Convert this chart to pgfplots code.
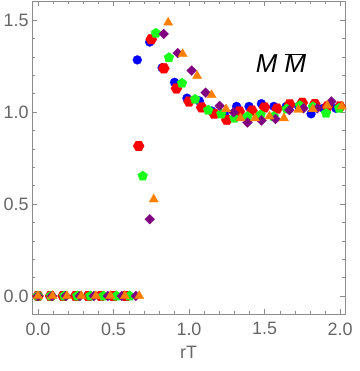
\documentclass[border=0pt]{standalone}
\usepackage{fontspec}
\setmainfont{Liberation Sans}
\usepackage{pgfplots}
\pgfplotsset{compat=1.18}
\usetikzlibrary{plotmarks}

\definecolor{mblue}{rgb}{0,0,1}
\definecolor{mred}{rgb}{1,0,0}
\definecolor{mgreen}{rgb}{0.1,1,0.1}
\definecolor{mpurple}{rgb}{0.5,0,0.5}
\definecolor{morange}{rgb}{1,0.5,0}
\definecolor{labelgray}{rgb}{0.4,0.4,0.4}
\definecolor{framegray}{rgb}{0.55,0.55,0.55}

% hexagon mark (not in plotmarks)
\pgfdeclareplotmark{hexagon*}{%
  \pgfpathmoveto{\pgfqpointpolar{0}{\pgfplotmarksize}}%
  \pgfpathlineto{\pgfqpointpolar{60}{\pgfplotmarksize}}%
  \pgfpathlineto{\pgfqpointpolar{120}{\pgfplotmarksize}}%
  \pgfpathlineto{\pgfqpointpolar{180}{\pgfplotmarksize}}%
  \pgfpathlineto{\pgfqpointpolar{240}{\pgfplotmarksize}}%
  \pgfpathlineto{\pgfqpointpolar{300}{\pgfplotmarksize}}%
  \pgfpathclose
  \pgfusepathqfillstroke}

\begin{document}
\begin{tikzpicture}
\begin{axis}[
    scale only axis,
    width=313bp, height=313bp,
    xmin=-0.0397, xmax=2.033,
    ymin=-0.098, ymax=1.603,
    axis line style={framegray},
    tick style={framegray},
    tick align=inside,
    major tick length=5bp, minor tick length=3bp,
    xtick={0,0.5,1,1.5,2}, ytick={0,0.5,1,1.5},
    minor x tick num=4, minor y tick num=4,
    /pgf/number format/.cd, fixed, fixed zerofill, precision=1, assume math mode=true,
    /pgfplots/.cd,
    tick label style={font=\fontsize{18}{18}\selectfont, text=labelgray},
    xticklabel style={yshift=-5bp},
    xlabel={rT},
    xlabel style={font=\fontsize{18}{18}\selectfont, text=labelgray, yshift=-4bp},
    every axis plot/.append style={only marks, line width=0.2pt},
]

% blue circles
\addplot[mark=*, mark size=4.5bp, color=mblue] coordinates {
 (0,0) (0.0822,0) (0.1644,0) (0.2466,0) (0.3288,0) (0.411,0) (0.4932,0) (0.5754,0)
 (0.6576,1.283) (0.7398,1.38) (0.822,1.24) (0.9042,1.161) (0.9864,1.075)
 (1.0686,1.06) (1.1508,1.005) (1.233,0.99) (1.3152,1.03) (1.3974,1.03)
 (1.4796,1.045) (1.5618,1.03) (1.644,1.03) (1.7262,1.03) (1.8084,0.99)
 (1.8906,1.02) (1.9728,1.02)
};

% red hexagons
\addplot[mark=hexagon*, mark size=5.6bp, color=mred] coordinates {
 (0,0) (0.0833,0) (0.1667,0) (0.25,0) (0.3333,0) (0.4167,0) (0.5,0) (0.5833,0)
 (0.6667,0.815) (0.75,1.395) (0.8333,1.237) (0.9167,1.128) (1.0,1.057)
 (1.0833,1.025) (1.1667,0.99) (1.25,0.957) (1.3333,1.003) (1.4167,1.007)
 (1.5,1.025) (1.5833,1.018) (1.6667,1.042) (1.75,1.05) (1.8333,1.043)
 (1.9167,1.03) (2.0,1.03)
};

% green pentagons
\addplot[mark=pentagon*, mark size=5.2bp, color=mgreen] coordinates {
 (0,0) (0.0867,0) (0.1734,0) (0.2601,0) (0.3468,0) (0.4335,0) (0.5202,0) (0.6069,0)
 (0.6936,0.652) (0.7803,1.428) (0.867,1.295) (0.9537,1.156) (1.0404,1.069)
 (1.1271,1.01) (1.2138,0.989) (1.3005,0.966) (1.3872,0.975) (1.4739,0.984)
 (1.5606,0.975) (1.6473,1.016) (1.734,1.034) (1.8207,1.028) (1.9074,0.993)
 (1.9941,1.02)
};

% purple diamonds
\addplot[mark=square*, mark size=3.5bp, mark options={rotate=45}, color=mpurple] coordinates {
 (0,0) (0.0925,0) (0.185,0) (0.2775,0) (0.37,0) (0.4625,0) (0.555,0) (0.6475,0)
 (0.74,0.417) (0.8325,1.424) (0.925,1.32) (1.0175,1.225) (1.11,1.105)
 (1.2025,1.033) (1.295,0.998) (1.3875,0.943) (1.48,0.954) (1.5725,0.962)
 (1.665,1.01) (1.7575,1.02) (1.85,1.02) (1.9425,1.057)
};

% orange triangles
\addplot[mark=triangle*, mark size=5.4bp, color=morange] coordinates {
 (0,0) (0.0958,0) (0.1916,0) (0.2874,0) (0.3832,0) (0.479,0) (0.5748,0) (0.6706,0)
 (0.7664,0.525) (0.8622,1.486) (0.958,1.315) (1.0538,1.196) (1.1496,1.092)
 (1.2454,1.015) (1.3412,0.966) (1.437,0.966) (1.5328,0.976) (1.6286,0.966)
 (1.7244,1.012) (1.8202,1.015) (1.916,1.035) (2.0118,1.03)
};

\node[font=\fontsize{26}{26}\selectfont\itshape, text=black]
  at (axis cs:1.61,1.266) {M $\overline{\mbox{\itshape M}}$};

\end{axis}
\pgfresetboundingbox
\path[use as bounding box] (-32bp,-57bp) rectangle (328bp,314bp);
\end{tikzpicture}
\end{document}
